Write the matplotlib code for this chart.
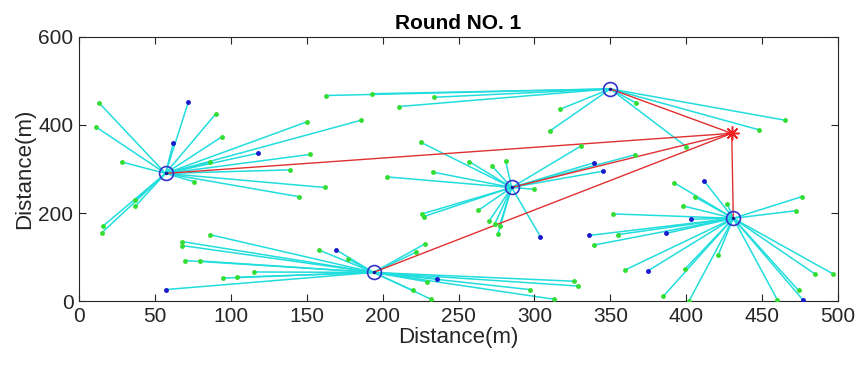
import numpy as np
import matplotlib.pyplot as plt

plt.rcParams['font.family'] = ['Liberation Sans', 'DejaVu Sans']

# cluster heads and sink
ch_x = [57, 350, 285, 431, 194]
ch_y = [290, 482, 258, 188, 65]
sink_x, sink_y = 430, 381

# member nodes: x, y, cluster head index, colour (g = normal, b = blue)
node_x = [13, 11, 72, 90, 62, 94, 118, 28, 86, 76, 139, 145, 37, 37, 16, 15, 150, 186, 152, 162,
          163, 193, 234, 211, 317, 310, 367, 465, 448, 400,
          225, 257, 272, 281, 233, 203, 300, 263, 226, 227, 270, 274, 277, 276, 304, 339, 345, 366, 331,
          392, 412, 406, 398, 427, 476, 472, 352, 403, 336, 355, 387, 339, 421, 360, 375, 399, 485, 497,
          385, 402, 474, 460, 477,
          86, 68, 68, 70, 80, 115, 104, 95, 57, 158, 169, 177, 228, 222, 229, 236, 220, 232, 326, 329,
          297, 313]
node_y = [451, 396, 452, 425, 358, 373, 336, 316, 315, 271, 298, 237, 229, 215, 171, 155, 407, 411, 333, 258,
          467, 471, 463, 442, 436, 386, 450, 411, 389, 351,
          361, 317, 307, 319, 293, 282, 254, 206, 198, 192, 181, 176, 171, 153, 146, 314, 295, 332, 353,
          269, 272, 236, 216, 220, 237, 205, 198, 186, 149, 151, 154, 127, 104, 71, 69, 72, 61, 61,
          11, 1, 24, 3, 2,
          151, 135, 126, 92, 91, 66, 54, 52, 26, 116, 117, 96, 130, 111, 44, 51, 24, 4, 45, 34,
          26, 4]
node_ch = [0] * 20 + [1] * 10 + [2] * 19 + [3] * 24 + [4] * 22
node_col = ['g', 'g', 'b', 'g', 'b', 'g', 'b', 'g', 'g', 'g', 'g', 'g', 'g', 'g', 'g', 'g', 'g', 'g', 'g', 'g',
            'g', 'g', 'g', 'g', 'g', 'g', 'g', 'g', 'g', 'g',
            'g', 'g', 'g', 'g', 'g', 'g', 'g', 'g', 'g', 'g', 'g', 'g', 'g', 'g', 'b', 'b', 'b', 'g', 'g',
            'g', 'b', 'g', 'g', 'g', 'g', 'g', 'g', 'b', 'b', 'g', 'b', 'g', 'g', 'g', 'b', 'g', 'g', 'g',
            'g', 'g', 'g', 'g', 'b',
            'g', 'g', 'g', 'g', 'g', 'g', 'g', 'g', 'b', 'g', 'b', 'g', 'g', 'g', 'g', 'b', 'g', 'g', 'g', 'g',
            'g', 'g']

fig = plt.figure(figsize=(8.56, 3.68), dpi=100)
ax = fig.add_axes([0.0923, 0.182, 0.8867, 0.7175])

# member -> cluster head links
for x, y, c in zip(node_x, node_y, node_ch):
    ax.plot([x, ch_x[c]], [y, ch_y[c]], color='#22dddd', lw=1.1, zorder=1)

# cluster head -> sink links
for x, y in zip(ch_x, ch_y):
    ax.plot([x, sink_x], [y, sink_y], color='#e03030', lw=1.0, zorder=2)

gx = [x for x, c in zip(node_x, node_col) if c == 'g']
gy = [y for y, c in zip(node_y, node_col) if c == 'g']
bx = [x for x, c in zip(node_x, node_col) if c == 'b']
by = [y for y, c in zip(node_y, node_col) if c == 'b']
ax.plot(gx, gy, '.', color='#33dd33', ms=5, zorder=3)
ax.plot(bx, by, '.', color='#1a1acc', ms=5, zorder=3)

ax.plot(ch_x, ch_y, 'o', mfc='none', mec='#3333cc', ms=10, mew=1.2, zorder=4)
ax.plot(ch_x, ch_y, '.', color='#1a1a99', ms=3, zorder=4)
ax.plot(sink_x, sink_y, marker=(8, 2, 0), color='#ee2222', ms=10, mew=1.1, zorder=5)

ax.set_xlim(0, 500)
ax.set_ylim(0, 600)
ax.set_xticks(np.arange(0, 501, 50))
ax.set_yticks([0, 200, 400, 600])
ax.tick_params(direction='in', top=True, right=True, length=5, width=0.8,
               labelsize=15, colors='#262626', pad=4)
for s in ax.spines.values():
    s.set_color('#262626')
    s.set_linewidth(0.8)

ax.set_xlabel('Distance(m)', fontsize=16, color='#262626', labelpad=1)
ax.set_ylabel('Distance(m)', fontsize=16, color='#262626', labelpad=2)
ax.set_title('Round NO. 1', fontsize=15, fontweight='bold', pad=6)

fig.savefig('out.png', dpi=100)
